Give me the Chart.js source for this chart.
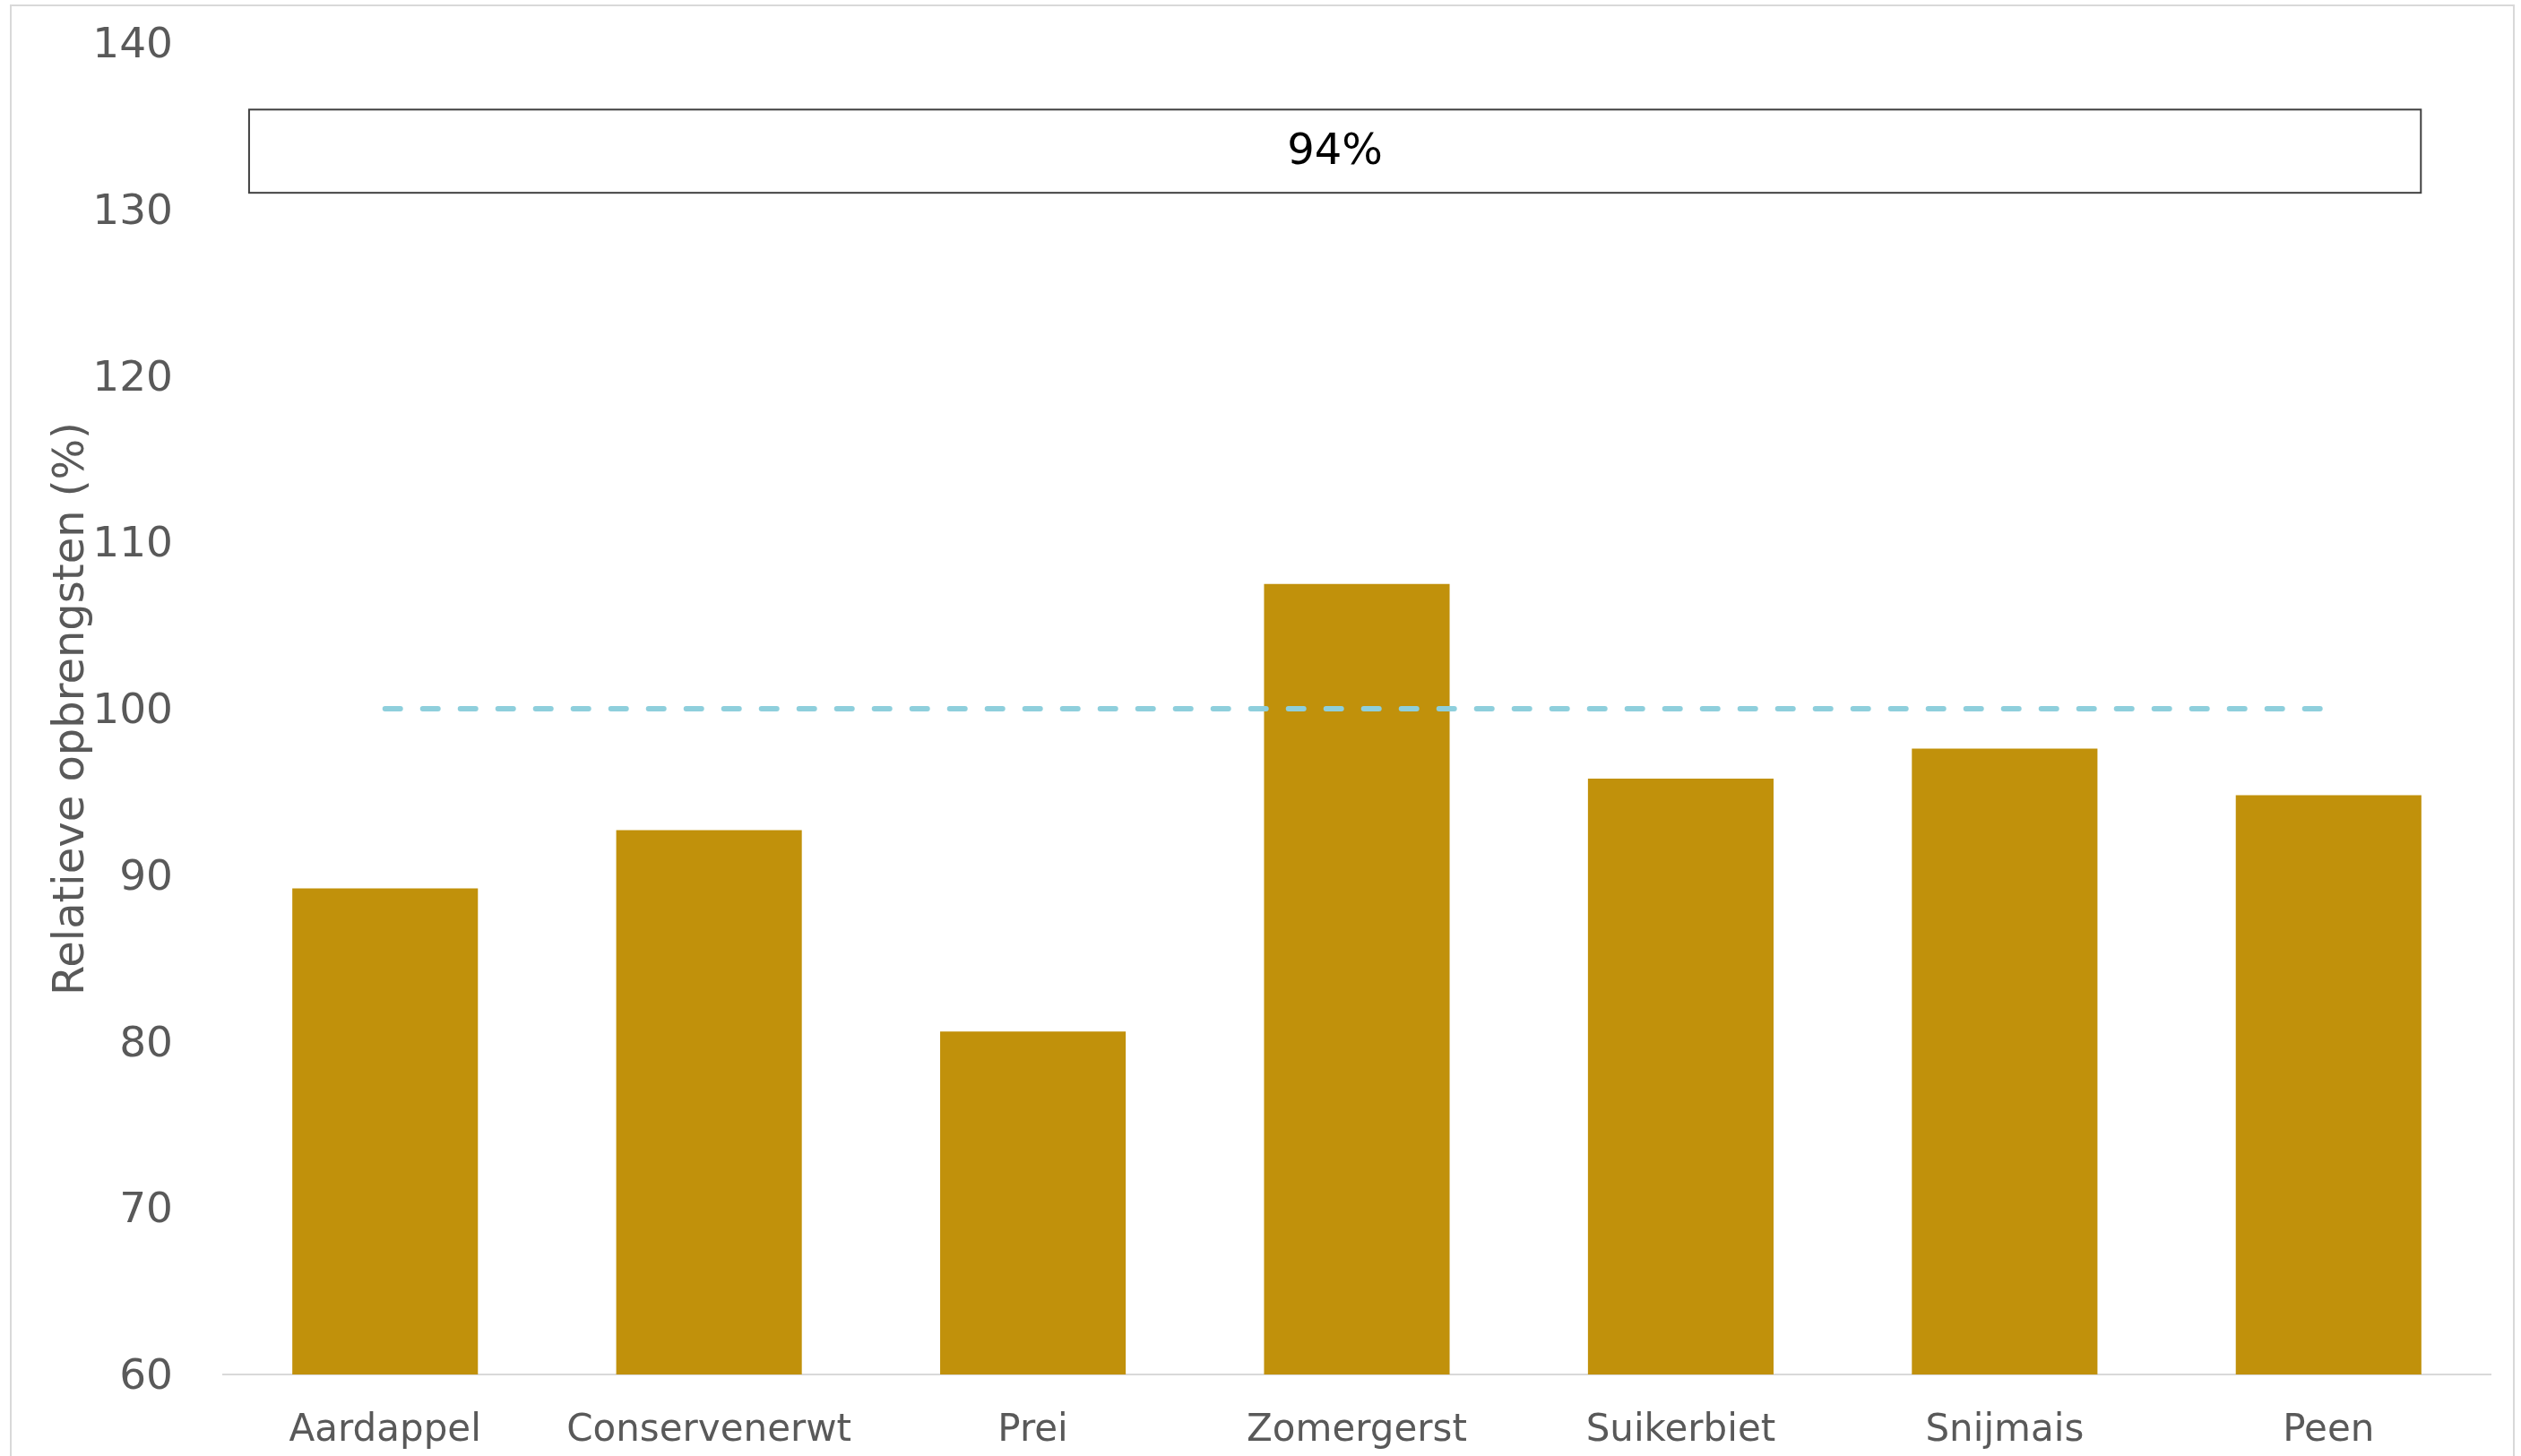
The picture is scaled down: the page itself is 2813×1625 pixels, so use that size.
<!DOCTYPE html>
<html>
<head>
<meta charset="utf-8">
<script src="https://cdn.jsdelivr.net/npm/chart.js@4.4.1/dist/chart.umd.min.js"></script>
<style>
  html, body { margin: 0; padding: 0; background: #fff; overflow: hidden; }
  #wrap { position: absolute; left: 0; top: 0; width: 2813px; height: 1625px; }
  #frame { position: absolute; left: 11px; top: 5px; width: 2795px; height: 1700px;
           border: 2px solid #d9d9d9; box-sizing: border-box; pointer-events: none; }
</style>
</head>
<body>
<div id="wrap"><canvas id="opbrengstChart" width="2813" height="1625"></canvas></div>
<div id="frame"></div>
<script>
// Gewassen en relatieve opbrengsten (%)
const gewassen = ['Aardappel', 'Conservenerwt', 'Prei', 'Zomergerst', 'Suikerbiet', 'Snijmais', 'Peen'];
const opbrengst = [89.2, 92.7, 80.6, 107.5, 95.8, 97.6, 94.8];
const referentie = [100, 100, 100, 100, 100, 100, 100];

// y-as
const yMin = 60, yMax = 140, yStap = 10;

// Kader bovenin met gemiddelde
const gemiddeldLabel = '94%';
const kaderY = [131, 136];
const kaderX = [-0.42, 6.285];

const FONT = '"DejaVu Sans", Verdana, sans-serif';
const GRIJS = '#595959';

// Kader tekenen in schaal-eenheden
const kaderPlugin = {
    id: 'kader',
    afterDatasetsDraw(chart) {
        const { ctx, scales: { x, y } } = chart;
        const x1 = x.getPixelForValue(kaderX[0]);
        const x2 = x.getPixelForValue(kaderX[1]);
        const y1 = y.getPixelForValue(kaderY[1]);
        const y2 = y.getPixelForValue(kaderY[0]);
        ctx.save();
        ctx.fillStyle = '#fff';
        ctx.fillRect(x1, y1, x2 - x1, y2 - y1);
        ctx.strokeStyle = '#404040';
        ctx.lineWidth = 2;
        ctx.strokeRect(x1, y1, x2 - x1, y2 - y1);
        ctx.fillStyle = '#000';
        ctx.font = '48px ' + FONT;
        ctx.textAlign = 'center';
        ctx.textBaseline = 'middle';
        ctx.fillText(gemiddeldLabel, (x1 + x2) / 2, (y1 + y2) / 2 + 2);
        ctx.restore();
    }
};

const ctx = document.getElementById('opbrengstChart').getContext('2d');
const chart = new Chart(ctx, {
    type: 'bar',
    data: {
        labels: gewassen,
        datasets: [
            {
                type: 'line',
                data: referentie,
                borderColor: '#8ecfdc',
                borderWidth: 6,
                borderDash: [17, 25],
                borderCapStyle: 'round',
                pointRadius: 0,
                fill: false,
                order: 0
            },
            {
                data: opbrengst,
                backgroundColor: '#c1910b',
                borderWidth: 0,
                categoryPercentage: 1,
                barPercentage: 0.573,
                order: 1
            }
        ]
    },
    options: {
        responsive: false,
        animation: false,
        layout: { padding: { top: 48, right: 34, left: 0, bottom: 0 } },
        plugins: { legend: { display: false }, tooltip: { enabled: false } },
        scales: {
            x: {
                grid: { display: false },
                border: { display: true, color: '#d9d9d9', width: 2 },
                ticks: { color: GRIJS, font: { family: FONT, size: 42 }, padding: 30, maxRotation: 0 },
                afterFit(s) { s.height = 91; }
            },
            y: {
                min: yMin,
                max: yMax,
                grid: { display: false },
                border: { display: false },
                ticks: { stepSize: yStap, color: GRIJS, font: { family: FONT, size: 47 }, padding: 48, labelOffset: 4 },
                title: {
                    display: true,
                    text: 'Relatieve opbrengsten (%)',
                    color: GRIJS,
                    font: { family: FONT, size: 48 },
                    padding: { top: 52, bottom: 0 }
                },
                afterFit(s) {
                    s.width = 249;
                    s.paddingTop = 0;
                    s.paddingBottom = 0;
                }
            }
        }
    },
    plugins: [kaderPlugin]
});
</script>
</body>
</html>
